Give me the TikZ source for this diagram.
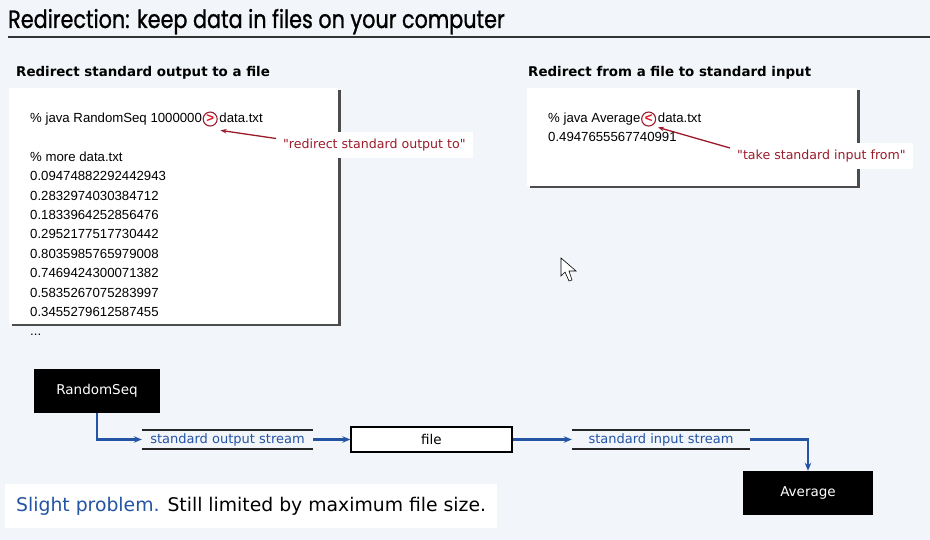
\documentclass[tikz,border=0pt]{standalone}
\usepackage{fontspec}
\setmainfont{Liberation Sans}
\newfontfamily\uifont{DejaVu Sans}
\newfontfamily\titlefont{Poppins}[FakeBold=1.2]
\usetikzlibrary{arrows.meta,positioning,shadows}

\definecolor{pagebg}{HTML}{F2F5F9}
\definecolor{streamblue}{HTML}{2454A4}
\definecolor{darkred}{HTML}{9B1B2A}
\definecolor{hotred}{HTML}{E3101C}

\begin{document}
\begin{tikzpicture}[x=1pt, y=-1pt,
  panel/.style={rectangle, fill=white, inner sep=0pt,
                drop shadow={shadow xshift=2.5pt, shadow yshift=-2.5pt, fill=black!70, opacity=1}},
  head/.style={font=\uifont\bfseries\fontsize{13.4}{16}\selectfont, inner sep=0pt},
  term/.style={font=\fontsize{13.2}{19.4}\selectfont, inner sep=0pt},
  ring/.style={circle, draw=darkred, line width=1.1pt, minimum size=14pt, inner sep=0pt,
               text=hotred, font=\bfseries\fontsize{13.2}{15}\selectfont},
  note/.style={fill=white, text=darkred, font=\uifont\fontsize{12.6}{15}\selectfont,
               inner xsep=7pt, minimum height=26pt},
  redarr/.style={-{Stealth[length=6pt, width=4.5pt]}, draw=darkred, line width=1.3pt},
  prog/.style={fill=black, text=white, font=\uifont\fontsize{13.5}{16}\selectfont,
               minimum height=44pt},
  stream/.style={text=streamblue, font=\uifont\fontsize{13}{15}\selectfont,
                 minimum height=19pt, inner sep=0pt},
  rule/.style={draw=black!85, line width=1.6pt},
  flow/.style={-{Stealth[length=8pt, width=6.5pt]}, draw=streamblue, line width=2.4pt}
]
\useasboundingbox[fill=pagebg] (0,0) rectangle (930,540);

% title
\node[anchor=base west, inner sep=0pt] (title) at (8,28)
  {\titlefont\fontsize{25}{28}\selectfont\scalebox{0.83}[1]{Redirection: keep data in files on your computer}};
\draw[line width=1.6pt, black!80] (8,37) -- (930,37);

% left panel
\node[head, anchor=base west] (outhead) at (16,77) {Redirect standard output to a file};
\node[panel, minimum width=329pt, minimum height=236pt] (outbox) at (173.5,206) {};
\node[term, anchor=base west] (outcmd) at (30,123) {\% java RandomSeq 1000000};
\node[ring, anchor=base west] (gtring) at ([xshift=0.5pt]outcmd.base east) {>};
\node[term, anchor=base west] (outfile) at ([xshift=1.5pt]gtring.base east) {data.txt};
\node[term, anchor=base west, align=left] (outlist) at (30,336)
  {\% more data.txt\\
   0.09474882292442943\\
   0.2832974030384712\\
   0.1833964252856476\\
   0.2952177517730442\\
   0.8035985765979008\\
   0.7469424300071382\\
   0.5835267075283997\\
   0.3455279612587455\\
   ...};
\node[note, anchor=west] (outnote) at (276,145.5) {"redirect standard output to"};
\draw[redarr] ([yshift=7pt]outnote.west) -- ([xshift=5pt, yshift=-6pt]gtring.south east);

% right panel
\node[head, anchor=base west] (inhead) at (528,77) {Redirect from a file to standard input};
\node[panel, minimum width=330pt, minimum height=98pt] (inbox) at (692,137) {};
\node[term, anchor=base west] (incmd) at (548,123) {\% java Average};
\node[ring, anchor=base west] (ltring) at ([xshift=0.5pt]incmd.base east) {<};
\node[term, anchor=base west] (infile) at ([xshift=1.5pt]ltring.base east) {data.txt};
\node[term, anchor=base west] (inval) at (548,142) {0.4947655567740991};
\node[note, anchor=west] (innote) at (730,156) {"take standard input from"};
\draw[redarr] ([yshift=8pt]innote.west) -- ([xshift=4pt, yshift=-3pt]ltring.south east);

% pipeline
\node[prog, minimum width=126pt] (rseq) at (97,391) {RandomSeq};
\node[stream, minimum width=171pt] (outstream) at (227.5,439.5) {standard output stream};
\draw[rule] (outstream.north west) -- (outstream.north east);
\draw[rule] (outstream.south west) -- (outstream.south east);
\node[draw=black, line width=1.3pt, fill=white, minimum width=161pt, minimum height=25pt,
      inner sep=0pt, font=\uifont\fontsize{13.5}{15}\selectfont] (file) at (431.5,439.5) {file};
\node[stream, minimum width=178pt] (instream) at (661,439.5) {standard input stream};
\draw[rule] (instream.north west) -- (instream.north east);
\draw[rule] (instream.south west) -- (instream.south east);
\node[prog, minimum width=130pt] (avg) at (808,493) {Average};

\draw[flow] (rseq.south) |- (outstream.west);
\draw[flow] (outstream.east) -- (file.west);
\draw[flow] (file.east) -- (instream.west);
\draw[flow] (instream.east) -| (avg.north);

% bottom remark
\node[fill=white, anchor=west, inner xsep=11pt, minimum height=44pt,
      font=\uifont\fontsize{18.8}{22}\selectfont] (remark) at (5,506)
  {\textcolor{streamblue}{Slight problem.} Still limited by maximum file size.};

% mouse pointer
\filldraw[fill=white, draw=black, line width=0.6pt]
  (561,258) -- (561,276) -- (565,272) -- (569,281) -- (572,280) -- (569,271) -- (576,271) -- cycle;
\end{tikzpicture}
\end{document}
